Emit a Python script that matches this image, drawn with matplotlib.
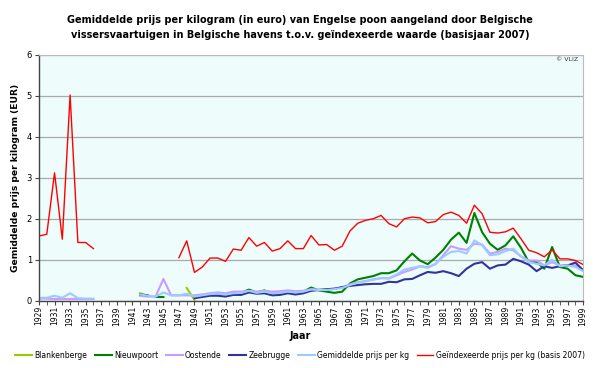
import numpy as np
import matplotlib.pyplot as plt

nan = np.nan
years = np.arange(1929, 2000)

# values per year, 1929 .. 1999
blankenberge = [nan] * 13 + [0.18, 0.12] + [nan] * 4 + [0.31, 0.02] + [nan] * 50

nieuwpoort = ([nan] * 15 + [0.09, 0.09] + [nan] * 4 +
              [0.12, 0.15, 0.17, 0.15, 0.18, 0.19, 0.27, 0.20, 0.25, 0.18,
               0.19, 0.22, 0.20, 0.22, 0.32, 0.25, 0.22, 0.19, 0.22, 0.42,
               0.52, 0.56, 0.60, 0.67, 0.67, 0.74, 0.96, 1.15, 0.98, 0.89,
               1.05, 1.24, 1.49, 1.66, 1.41, 2.14, 1.67, 1.39, 1.24, 1.35,
               1.57, 1.29, 0.94, 0.94, 0.78, 1.31, 0.82, 0.78, 0.62, 0.58])

oostende = ([0.05, 0.05, 0.04, 0.04, 0.04, 0.04, 0.04, 0.04] + [nan] * 5 +
            [0.12, 0.10, 0.10, 0.53, 0.13, 0.13, 0.13, 0.13,
             0.15, 0.18, 0.20, 0.18, 0.22, 0.22, 0.24, 0.22, 0.24, 0.22,
             0.23, 0.25, 0.23, 0.24, 0.28, 0.27, 0.27, 0.30, 0.32, 0.40,
             0.45, 0.48, 0.52, 0.55, 0.54, 0.62, 0.70, 0.76, 0.84, 0.82,
             0.89, 1.11, 1.33, 1.27, 1.24, 1.39, 1.37, 1.15, 1.19, 1.27,
             1.23, 1.08, 0.98, 0.98, 0.86, 0.94, 0.86, 0.86, 0.86, 0.74])

zeebrugge = ([nan] * 13 + [0.15, 0.13] + [nan] * 5 +
             [0.06, 0.09, 0.12, 0.12, 0.10, 0.14, 0.14, 0.20, 0.17, 0.18,
              0.13, 0.14, 0.18, 0.15, 0.18, 0.24, 0.26, 0.28, 0.29, 0.33,
              0.36, 0.38, 0.40, 0.41, 0.41, 0.46, 0.45, 0.52, 0.53, 0.62,
              0.70, 0.68, 0.72, 0.67, 0.60, 0.78, 0.90, 0.94, 0.78, 0.86,
              0.88, 1.02, 0.96, 0.88, 0.72, 0.84, 0.80, 0.84, 0.86, 0.93, 0.74])

gemiddeld = ([0.07, 0.07, 0.12, 0.07, 0.18, 0.06, 0.05, 0.05] + [nan] * 5 +
             [0.15, 0.12, 0.10, 0.20, 0.13, 0.13, 0.17, 0.10,
              0.13, 0.16, 0.17, 0.15, 0.18, 0.19, 0.24, 0.19, 0.22, 0.18,
              0.19, 0.22, 0.20, 0.22, 0.27, 0.26, 0.26, 0.28, 0.31, 0.38,
              0.44, 0.47, 0.51, 0.55, 0.55, 0.64, 0.76, 0.80, 0.84, 0.80,
              0.90, 1.07, 1.19, 1.21, 1.15, 1.47, 1.35, 1.11, 1.13, 1.21,
              1.27, 1.08, 0.94, 0.90, 0.86, 1.00, 0.84, 0.86, 0.82, 0.72])

geindexeerd = ([1.58, 1.62, 3.12, 1.50, 5.02, 1.42, 1.42, 1.27] + [nan] * 10 +
               [1.05, 1.46, 0.69, 0.82, 1.04, 1.04, 0.96, 1.26, 1.23, 1.54,
                1.33, 1.42, 1.21, 1.27, 1.46, 1.27, 1.27, 1.59, 1.36, 1.37,
                1.23, 1.33, 1.70, 1.89, 1.96, 2.00, 2.08, 1.88, 1.80, 2.00,
                2.04, 2.02, 1.90, 1.93, 2.10, 2.16, 2.08, 1.89, 2.33, 2.12,
                1.67, 1.65, 1.68, 1.77, 1.51, 1.23, 1.17, 1.07, 1.24, 1.02,
                1.02, 0.98, 0.88])

series = [
    ('Blankenberge', blankenberge, '#99cc00', 1.5),
    ('Nieuwpoort', nieuwpoort, '#008000', 1.5),
    ('Oostende', oostende, '#cc99ff', 1.5),
    ('Zeebrugge', zeebrugge, '#333399', 1.5),
    ('Gemiddelde prijs per kg', gemiddeld, '#99ccff', 1.5),
    ('Geïndexeerde prijs per kg (basis 2007)', geindexeerd, '#ff0000', 1.0),
]

fig = plt.figure(figsize=(6, 3.68), dpi=100)
ax = fig.add_axes([0.065, 0.183, 0.907, 0.668])
ax.set_facecolor('#eefcfc')

for name, vals, col, lw in series:
    ax.plot(years, np.array(vals, dtype=float), color=col, lw=lw, label=name)

ax.set_xlim(1929, 1999)
ax.set_ylim(0, 6)
ax.set_yticks(range(7))
ax.set_xticks(range(1929, 2000, 2))
ax.set_xticks(range(1929, 2000), minor=True)
ax.tick_params(axis='x', labelrotation=90, labelsize=5.5, length=3, color='#444444', pad=1)
ax.tick_params(axis='x', which='minor', length=3, color='#444444')
ax.tick_params(axis='y', labelsize=6, length=3, color='#444444', pad=2)
ax.grid(axis='y', color='#aaaaaa', lw=0.9)
ax.set_axisbelow(True)
for s in ['top', 'right']:
    ax.spines[s].set_color('#bbbbbb')
    ax.spines[s].set_linewidth(0.8)
for s in ['left', 'bottom']:
    ax.spines[s].set_color('#444444')
    ax.spines[s].set_linewidth(1.0)

ax.set_ylabel('Gemiddelde prijs per kilogram (EUR)', fontsize=6.6, fontweight='bold', labelpad=5)
fig.text(0.5, 0.078, 'Jaar', ha='center', fontsize=7, fontweight='bold')
fig.text(0.5, 0.96, 'Gemiddelde prijs per kilogram (in euro) van Engelse poon aangeland door Belgische\n'
         'vissersvaartuigen in Belgische havens t.o.v. geïndexeerde waarde (basisjaar 2007)',
         ha='center', va='top', fontsize=7.0, fontweight='bold', linespacing=1.6)
fig.text(0.963, 0.833, '© VLIZ', ha='right', fontsize=4.5, color='#333333')

fig.legend(loc='center', bbox_to_anchor=(0.5, 0.035), ncol=6, frameon=False,
           fontsize=5.5, handlelength=2.2, handletextpad=0.3, columnspacing=1.0)

fig.savefig('out.png', dpi=100)
